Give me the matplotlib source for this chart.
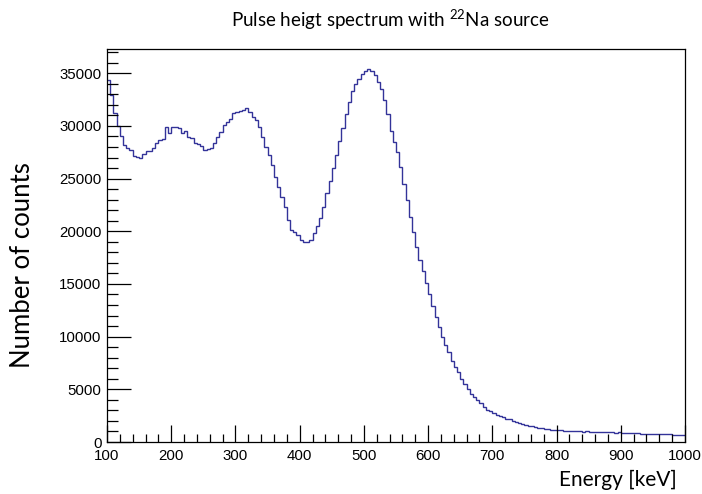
import numpy as np
import matplotlib.pyplot as plt
from matplotlib.ticker import MultipleLocator

plt.rcParams.update({
    "font.family": "Liberation Sans",
    "mathtext.fontset": "custom",
    "mathtext.rm": "Lato",
    "axes.linewidth": 0.9,
    "xtick.direction": "in",
    "ytick.direction": "in",
})

# Histogram: 5 keV bins from 100 to 1000 keV
e_min = 100
e_max = 1000
bin_width = 5
counts = [
    34400, 32900, 31200, 30000, 29000, 28200, 27900, 27700, 27100, 27050,
    27000, 27300, 27600, 27650, 27950, 28400, 28650, 28800, 29850, 29300,
    29850, 29850, 29800, 29300, 29500, 28980, 28900, 28350, 28300, 28090,
    27710, 27800, 27870, 28350, 28980, 29380, 30090, 30400, 30630, 31250,
    31300, 31450, 31500, 31720, 31350, 30880, 30560, 29920, 28980, 28030,
    27240, 26290, 25180, 24230, 23280, 22330, 21070, 20120, 19900, 19640,
    19170, 18950, 18950, 19200, 19800, 20500, 21300, 22300, 23600, 24800,
    26000, 27240, 28600, 29800, 31100, 32300, 33300, 33950, 34500, 34900,
    35200, 35370, 35200, 34800, 34200, 33500, 32500, 31100, 29500, 28500,
    27500, 26100, 24500, 23000, 21400, 19900, 18500, 17300, 16200, 15100,
    14000, 12900, 11900, 10900, 10000, 9200, 8500, 7700, 7100, 6600,
    6000, 5500, 5000, 4600, 4300, 4000, 3700, 3300, 3050, 2900,
    2750, 2600, 2500, 2350, 2200, 2150, 2000, 1900, 1850, 1750,
    1650, 1550, 1480, 1400, 1350, 1300, 1250, 1220, 1180, 1150,
    1100, 1120, 1080, 1050, 1040, 1020, 1030, 1000, 990, 1010,
    980, 960, 970, 950, 940, 960, 920, 930, 900, 910,
    890, 860, 870, 830, 840, 810, 800, 790, 770, 780,
    750, 760, 740, 730, 720, 730, 700, 710, 690, 690,
]
edges = np.arange(e_min, e_max + bin_width, bin_width)

W, H = 702, 494
fig = plt.figure(figsize=(W / 100, H / 100), dpi=100)
ax = fig.add_axes([107 / W, 1 - 442 / H, (685 - 107) / W, (442 - 49) / H])

ax.stairs(counts, edges, color="#333399", linewidth=1.0, baseline=None)

ax.set_xlim(e_min, e_max)
ax.set_ylim(0, 37300)

ax.xaxis.set_major_locator(MultipleLocator(100))
ax.xaxis.set_minor_locator(MultipleLocator(20))
ax.yaxis.set_major_locator(MultipleLocator(5000))
ax.yaxis.set_minor_locator(MultipleLocator(1000))

ax.tick_params(axis="x", which="major", length=12, width=0.9, labelsize=10.8, pad=5)
ax.tick_params(axis="x", which="minor", length=6, width=0.9)
ax.tick_params(axis="y", which="major", length=17, width=0.9, labelsize=10.8, pad=4)
ax.tick_params(axis="y", which="minor", length=8, width=0.9)

fig.text(390 / W, 1 - 20 / H, r"Pulse heigt spectrum with $^{22}$Na source",
         ha="center", va="center", fontsize=13.5, family="Lato")
fig.text(23 / W, 1 - 265 / H, "Number of counts", rotation=90,
         ha="center", va="center", fontsize=18.5, family="Lato")
fig.text(677 / W, 1 - 470 / H, "Energy [keV]",
         ha="right", va="top", fontsize=15, family="Lato")

fig.savefig("out.png", dpi=100)
